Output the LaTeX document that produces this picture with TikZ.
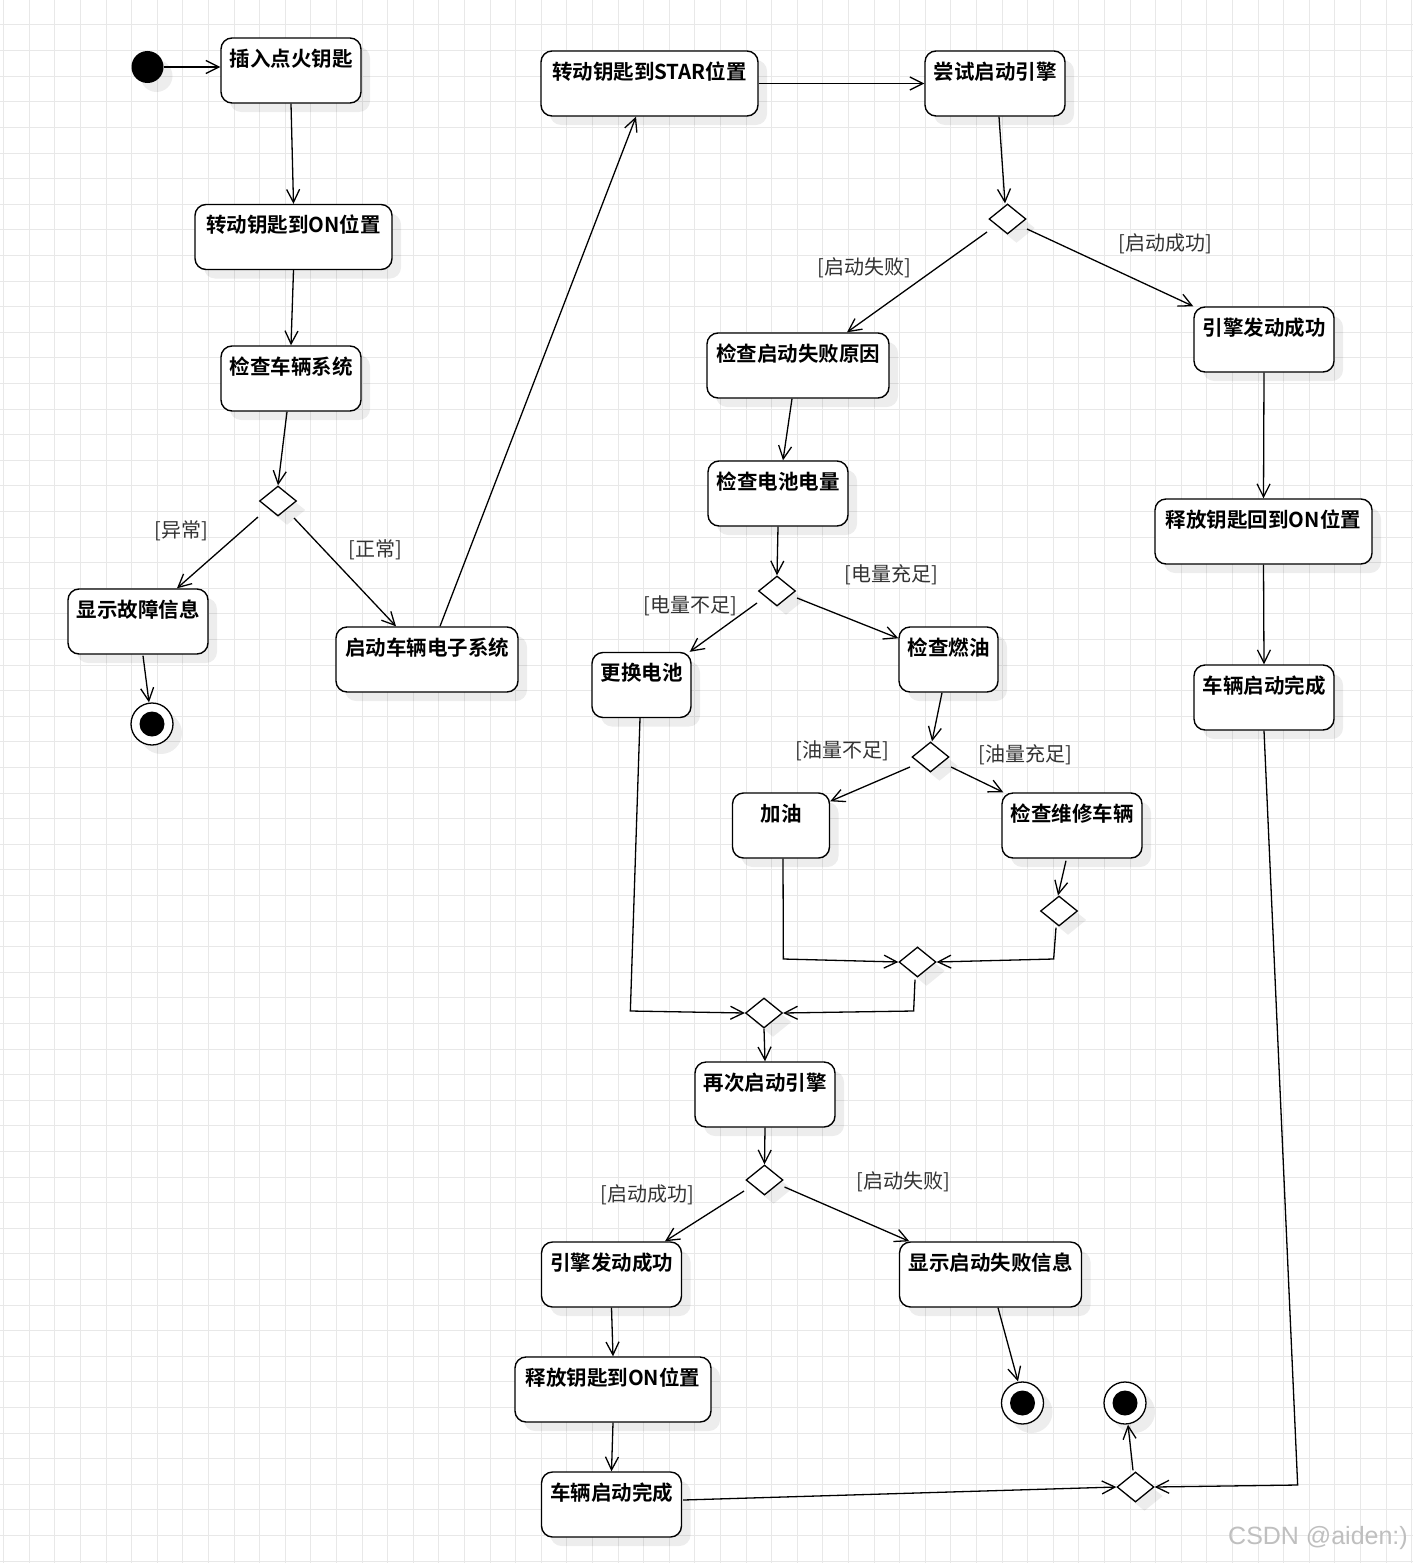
\documentclass[tikz,border=0pt]{standalone}
\usepackage{fontspec}
\setmainfont{Noto Sans CJK SC}[BoldFont={Noto Sans CJK SC Bold}]
\newfontfamily\wmfont{Liberation Sans}
\usetikzlibrary{shapes.geometric,arrows.meta,calc,shadows}
\tikzset{
  shdw/.style={drop shadow={shadow xshift=9pt,shadow yshift=-9pt,fill=black,opacity=0.07}},
  act/.style={draw,line width=1.4pt,rounded corners=11pt,fill=white,inner xsep=0pt,inner ysep=0pt,
    minimum height=65pt,text height=28.3pt,text depth=36.7pt,
    font=\bfseries\fontsize{20.5}{24}\selectfont,shdw},
  dec/.style={diamond,draw,line width=1.3pt,fill=white,inner sep=0pt,minimum width=37pt,minimum height=30pt,shdw},
  startst/.style={circle,fill=black,minimum size=32pt,inner sep=0pt,shdw},
  endst/.style={circle,draw,line width=1.3pt,fill=white,minimum size=42pt,inner sep=0pt,shdw,
    path picture={\fill[black] (path picture bounding box.center) circle (12.5pt);}},
  arr/.style={line width=1.3pt,-{Straight Barb[length=13pt,width=13pt]}},
  lbl/.style={font=\fontsize{20}{24}\selectfont,text=black!80,inner sep=0pt},
  gridl/.style={draw=black!9,line width=1pt}
}
\begin{document}
\begin{tikzpicture}[x=1pt,y=-1pt]
\fill[white] (0,0) rectangle (1413,1563);
\useasboundingbox (0,0) rectangle (1413,1563);
\foreach \i in {0,...,55} \draw[gridl] ({3.7+25.6*\i},0) -- ({3.7+25.6*\i},1563);
\foreach \j in {0,...,60} \draw[gridl] (0,{25+25.6*\j}) -- (1413,{25+25.6*\j});

\node[startst] (S) at (147.5,67) {};
\node[act,minimum width=140pt] (A1) at (291,70.5) {插入点火钥匙};
\node[act,minimum width=197pt] (A2) at (293.5,237) {转动钥匙到ON位置};
\node[act,minimum width=140pt] (A3) at (291,378.5) {检查车辆系统};
\node[dec] (D1) at (278,501) {};
\node[act,minimum width=140pt] (B1) at (138,621.5) {显示故障信息};
\node[endst] (E1) at (152,724) {};
\node[act,minimum width=182pt] (B2) at (427,659.5) {启动车辆电子系统};
\node[act,minimum width=217pt] (C1) at (649.5,83.5) {转动钥匙到STAR位置};
\node[act,minimum width=140pt] (C2) at (995,83.5) {尝试启动引擎};
\node[dec] (D2) at (1007.5,219) {};
\node[act,minimum width=182pt] (C3) at (798,365.5) {检查启动失败原因};
\node[act,minimum width=140pt] (R1) at (1264,339.5) {引擎发动成功};
\node[act,minimum width=140pt] (C4) at (778,493.5) {检查电池电量};
\node[act,minimum width=217pt] (R2) at (1263.5,531.5) {释放钥匙回到ON位置};
\node[act,minimum width=140pt] (R3) at (1264,697.5) {车辆启动完成};
\node[dec] (D3) at (777,591) {};
\node[act,minimum width=99pt] (C5) at (641.5,685) {更换电池};
\node[act,minimum width=99pt] (C6) at (948.5,659.5) {检查燃油};
\node[dec] (D4) at (930.5,757) {};
\node[act,minimum width=97pt] (C7) at (781,825.5) {加油};
\node[act,minimum width=140pt] (C8) at (1072,825.5) {检查维修车辆};
\node[dec] (D5) at (1059,911) {};
\node[dec] (D6) at (917.5,962) {};
\node[dec] (D7) at (764,1013) {};
\node[act,minimum width=140pt] (C9) at (765,1094.5) {再次启动引擎};
\node[dec] (D8) at (764.5,1180) {};
\node[act,minimum width=140pt] (C10) at (611.5,1274.5) {引擎发动成功};
\node[act,minimum width=182pt] (C11) at (990.5,1274.5) {显示启动失败信息};
\node[act,minimum width=196pt] (C12) at (613,1389.5) {释放钥匙到ON位置};
\node[act,minimum width=140pt] (C13) at (611.5,1504.5) {车辆启动完成};
\node[endst] (E2) at (1022.5,1403) {};
\node[endst] (E3) at (1125,1403) {};
\node[dec] (D9) at (1135.5,1487) {};

\draw[arr] (S.east) -- (S.east -| A1.west);
\draw[arr] (A1.south) -- (A2.north);
\draw[arr] (A2.south) -- (A3.north);
\draw[arr] ($(A3.south)+(-4,0)$) -- (D1.north);
\draw[arr] ($(D1)+(-20,16)$) -- ($(B1.north)+(39,0)$);
\draw[arr] ($(D1)+(16,17)$) -- ($(B2.north)+(-31,0)$);
\draw[arr] ($(B1.south)+(5,1)$) -- ($(E1.north)+(-3,0)$);
\draw[arr] ($(B2.north)+(13,0)$) -- ($(C1.south)+(-13.5,0)$);
\draw[arr] (C1.east) -- (C2.west);
\draw[arr] ($(C2.south)+(4,0)$) -- ($(D2.north)+(-2.5,0)$);
\draw[arr] ($(D2)+(-20.5,13)$) -- ($(C3.north)+(49,0)$);
\draw[arr] ($(D2)+(19.5,10)$) -- (R1.north west);
\draw[arr] ($(C3.south)+(-6,0)$) -- ($(C4.north)+(5,0)$);
\draw[arr] (R1.south) -- (R2.north);
\draw[arr] (R2.south) -- (R3.north);
\draw[arr] (R3.south) -- ($(D9.east)+(143,-2)$) -- (D9.east);
\draw[arr] (C4.south) -- (D3.north);
\draw[arr] ($(D3)+(-20,12)$) -- ($(C5.north east)+(-2,0)$);
\draw[arr] ($(D3)+(20,7)$) -- ($(C6.north west)+(0,12)$);
\draw[arr] ($(C6.south)+(-6.5,0)$) -- ($(D4.north)+(1.5,0)$);
\draw[arr] ($(D4)+(-20.5,10)$) -- ($(C7.north east)+(0,9)$);
\draw[arr] ($(D4)+(20.5,10)$) -- ($(C8.north west)+(2,0)$);
\draw[arr] ($(C8.south)+(-6,2)$) -- ($(D5.north)+(-1,0)$);
\draw[arr] ($(D5.south)+(-3,1)$) -- ($(D6.east)+(117,-3)$) -- (D6.east);
\draw[arr] ($(C7.south)+(2,0)$) -- ($(D6.west)+(-115,-3)$) -- (D6.west);
\draw[arr] ($(C5.south)+(-1.5,0)$) -- ($(D7.west)+(-114.5,-2)$) -- (D7.west);
\draw[arr] ($(D6.south)+(-2.5,2)$) -- ($(D7.east)+(130.5,-2)$) -- (D7.east);
\draw[arr] (D7.south) -- (C9.north);
\draw[arr] (C9.south) -- (D8.north);
\draw[arr] ($(D8)+(-20.5,11)$) -- ($(C10.north)+(53.5,0)$);
\draw[arr] ($(D8)+(20,7)$) -- ($(C11.north west)+(10.5,0)$);
\draw[arr] (C10.south) -- (C12.north);
\draw[arr] (C12.south) -- (C13.north);
\draw[arr] ($(C11.south)+(7.5,0)$) -- ($(E2.north)+(-4.5,0)$);
\draw[arr] ($(C13.east)+(1,-4.5)$) -- (D9.west);
\draw[arr] ($(D9.north)+(-2.5,-1)$) -- ($(E3.south)+(3,0)$);

\node[lbl] (l1) at (181.5,531) {[异常]};
\node[lbl] (l2) at (375,550) {[正常]};
\node[lbl] (l3) at (864.5,268) {[启动失败]};
\node[lbl] (l4) at (1165.5,244) {[启动成功]};
\node[lbl] (l5) at (891.5,575) {[电量充足]};
\node[lbl] (l6) at (690,606) {[电量不足]};
\node[lbl] (l7) at (842.5,751) {[油量不足]};
\node[lbl] (l8) at (1025,755) {[油量充足]};
\node[lbl] (l9) at (647.5,1195) {[启动成功]};
\node[lbl] (l10) at (903.5,1182) {[启动失败]};

\node[font=\wmfont\fontsize{25}{30}\selectfont,text=black!25,inner sep=0pt] (wm) at (1318,1538) {CSDN @aiden:)};
\end{tikzpicture}
\end{document}
